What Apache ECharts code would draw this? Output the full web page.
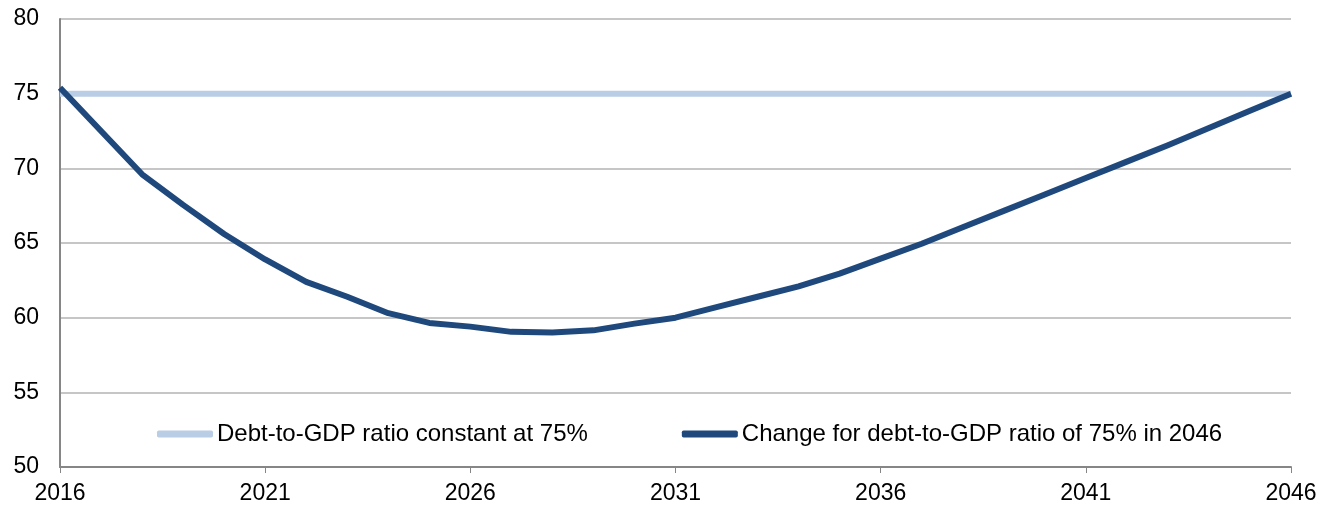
<!DOCTYPE html>
<html>
<head>
<meta charset="utf-8">
<script src="https://cdn.jsdelivr.net/npm/echarts@6/dist/echarts.min.js"></script>
<style>html,body{margin:0;padding:0;background:#fff}#c{width:1320px;height:506px}</style>
</head>
<body>
<div id="c"></div>
<script>
const years = [2016,2017,2018,2019,2020,2021,2022,2023,2024,2025,2026,2027,2028,2029,2030,2031,2032,2033,2034,2035,2036,2037,2038,2039,2040,2041,2042,2043,2044,2045,2046].map(String);
const constantSeries = [75,75,75,75,75,75,75,75,75,75,75,75,75,75,75,75,75,75,75,75,75,75,75,75,75,75,75,75,75,75,75];
const changeSeries = [75.4,72.5,69.6,67.55,65.6,63.9,62.4,61.4,60.3,59.65,59.4,59.05,59.0,59.15,59.6,60.0,60.7,61.4,62.1,62.95,63.95,64.95,66.05,67.15,68.25,69.35,70.45,71.55,72.7,73.85,75.0];
const seriesNames = ['Debt-to-GDP ratio constant at 75%','Change for debt-to-GDP ratio of 75% in 2046'];

const chart = echarts.init(document.getElementById('c'), null, {renderer:'canvas'});
const font = 'Liberation Sans, Arial, sans-serif';
chart.setOption({
  animation:false,
  backgroundColor:'#fff',
  grid:{left:60,right:29,top:19,bottom:39,containLabel:false},
  legend:{
    left:157, top:422, padding:0,
    itemWidth:56, itemHeight:7, itemGap:94,
    icon:'roundRect',
    textStyle:{fontFamily:font,fontSize:24,color:'#000',padding:[0,0,0,-1]},
    data:seriesNames
  },
  xAxis:{
    type:'category', data:years, boundaryGap:false,
    axisLine:{lineStyle:{color:'#868686',width:2}},
    axisTick:{show:true,interval:4,length:6,lineStyle:{color:'#868686',width:1}},
    axisLabel:{interval:4,margin:15,fontFamily:font,fontSize:23,color:'#000'},
    splitLine:{show:false}
  },
  yAxis:{
    type:'value', min:50, max:80, interval:5,
    axisLine:{show:true,lineStyle:{color:'#868686',width:2}},
    axisTick:{show:false},
    axisLabel:{margin:21,fontFamily:font,fontSize:23,color:'#000'},
    splitLine:{lineStyle:{color:'#b3b3b3',width:1.5}}
  },
  series:[
    {name:seriesNames[0],type:'line',data:constantSeries,showSymbol:false,symbol:'none',
     lineStyle:{color:'#b9cde5',width:6},itemStyle:{color:'#b9cde5'},z:2},
    {name:seriesNames[1],type:'line',data:changeSeries,showSymbol:false,symbol:'none',
     lineStyle:{color:'#1f497d',width:6,join:'round'},itemStyle:{color:'#1f497d'},z:3}
  ]
});
</script>
</body>
</html>
